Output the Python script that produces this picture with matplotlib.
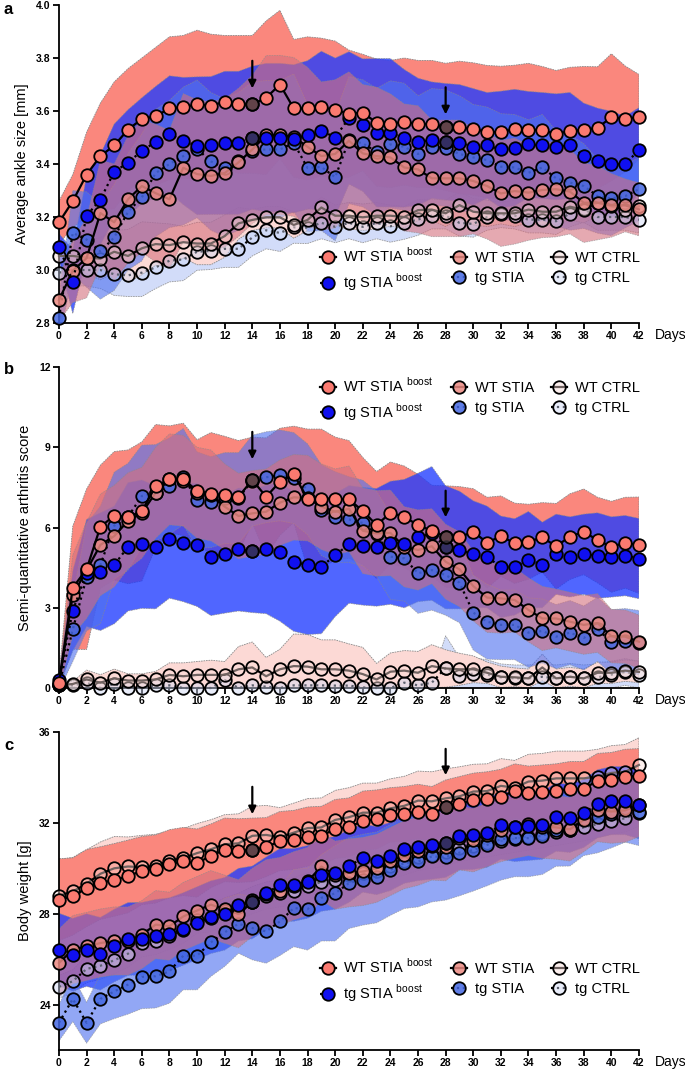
import numpy as np
import matplotlib.pyplot as plt
from matplotlib.lines import Line2D
from matplotlib.colors import to_rgba

plt.rcParams['font.family'] = ['Liberation Sans', 'DejaVu Sans']

days = np.arange(43)
boost_days = [14, 28]
labels = ['WT STIA $^{\\mathregular{boost}}$', 'tg STIA $^{\\mathregular{boost}}$',
          'WT STIA', 'tg STIA', 'WT CTRL', 'tg CTRL']

# ---- a: ankle size [mm]
a_wtb = [3.18,3.26,3.36,3.43,3.47,3.53,3.57,3.58,3.61,3.615,3.625,3.62,3.635,3.625,3.625,3.65,3.70,3.61,3.61,3.615,3.604,3.59,3.594,3.556,3.551,3.56,3.551,3.551,3.54,3.538,3.532,3.522,3.519,3.533,3.53,3.528,3.513,3.525,3.528,3.537,3.576,3.57,3.578]
a_tgb = [3.088,2.956,3.205,3.266,3.371,3.405,3.45,3.483,3.513,3.487,3.469,3.47,3.48,3.48,3.499,3.5,3.5,3.495,3.51,3.526,3.5,3.574,3.547,3.518,3.518,3.497,3.484,3.49,3.484,3.48,3.465,3.47,3.455,3.462,3.474,3.47,3.465,3.47,3.43,3.411,3.399,3.40,3.453]
a_wts = [2.887,2.997,3.045,3.215,3.18,3.267,3.317,3.29,3.267,3.386,3.362,3.355,3.366,3.406,3.455,3.509,3.51,3.502,3.465,3.43,3.438,3.488,3.44,3.43,3.425,3.387,3.38,3.346,3.346,3.346,3.336,3.317,3.289,3.298,3.292,3.302,3.305,3.296,3.254,3.254,3.244,3.244,3.229]
a_tgs = [2.82,3.14,3.115,3.07,3.123,3.22,3.274,3.366,3.40,3.43,3.457,3.41,3.386,3.41,3.45,3.455,3.455,3.48,3.385,3.389,3.35,3.49,3.478,3.446,3.474,3.465,3.438,3.465,3.46,3.438,3.425,3.415,3.39,3.387,3.367,3.387,3.346,3.33,3.317,3.279,3.27,3.279,3.305]
a_wtc = [3.053,3.053,3.047,3.043,3.069,3.053,3.082,3.098,3.094,3.105,3.10,3.10,3.128,3.176,3.189,3.199,3.199,3.17,3.189,3.236,3.205,3.205,3.199,3.205,3.205,3.2,3.226,3.228,3.214,3.245,3.22,3.214,3.214,3.214,3.228,3.22,3.22,3.239,3.228,3.254,3.24,3.228,3.24]
a_tgc = [2.99,3.0,3.0,3.0,2.984,2.98,2.99,3.01,3.035,3.04,3.069,3.072,3.08,3.08,3.123,3.15,3.14,3.161,3.16,3.178,3.163,3.178,3.163,3.178,3.165,3.176,3.191,3.205,3.205,3.178,3.174,3.2,3.21,3.205,3.19,3.19,3.184,3.213,3.23,3.2,3.2,3.2,3.19]
a_wtb_sd = [0.08,0.1,0.16,0.2,0.24,0.23,0.23,0.26,0.27,0.27,0.28,0.27,0.25,0.26,0.26,0.29,0.28,0.26,0.27,0.26,0.26,0.24,0.22,0.24,0.24,0.24,0.24,0.24,0.24,0.25,0.25,0.25,0.25,0.24,0.25,0.24,0.24,0.24,0.24,0.23,0.24,0.2,0.16]
a_tgb_sd = [0.05,0.12,0.15,0.17,0.18,0.2,0.2,0.21,0.22,0.24,0.26,0.26,0.27,0.27,0.27,0.28,0.28,0.28,0.28,0.3,0.3,0.25,0.25,0.28,0.28,0.26,0.24,0.22,0.22,0.22,0.22,0.2,0.22,0.22,0.2,0.2,0.2,0.2,0.2,0.2,0.2,0.18,0.16]
a_wts_sd = [0.08,0.12,0.15,0.2,0.22,0.24,0.25,0.26,0.26,0.28,0.28,0.28,0.28,0.28,0.28,0.3,0.3,0.3,0.3,0.28,0.28,0.26,0.26,0.26,0.24,0.24,0.24,0.22,0.22,0.22,0.2,0.2,0.2,0.2,0.18,0.18,0.18,0.16,0.15,0.14,0.12,0.1,0.1]
a_tgs_sd = [0.08,0.16,0.18,0.18,0.2,0.22,0.24,0.24,0.24,0.26,0.26,0.26,0.26,0.26,0.26,0.26,0.26,0.26,0.24,0.24,0.24,0.24,0.24,0.24,0.24,0.24,0.22,0.22,0.22,0.22,0.2,0.2,0.2,0.2,0.2,0.2,0.18,0.18,0.16,0.14,0.14,0.12,0.12]
a_wtc_sd = [0.03,0.05,0.06,0.08,0.08,0.1,0.1,0.08,0.08,0.06,0.08,0.08,0.08,0.06,0.04,0.04,0.04,0.05,0.04,0.04,0.04,0.05,0.05,0.05,0.04,0.04,0.04,0.04,0.05,0.05,0.05,0.05,0.04,0.05,0.05,0.05,0.05,0.05,0.05,0.05,0.05,0.05,0.05]
a_tgc_sd = [0.05,0.06,0.06,0.07,0.08,0.08,0.09,0.08,0.08,0.08,0.07,0.07,0.07,0.07,0.07,0.07,0.07,0.06,0.06,0.06,0.06,0.06,0.06,0.06,0.06,0.06,0.06,0.05,0.05,0.05,0.05,0.05,0.05,0.05,0.05,0.05,0.05,0.05,0.05,0.05,0.05,0.05,0.05]

# ---- b: arthritis score
b_wtb = [0.2,3.75,4.44,6.03,6.44,6.4,6.6,7.55,7.8,7.8,7.38,7.25,7.21,7.15,7.78,7.15,7.71,7.99,7.08,7.08,7.08,7.05,6.62,6.09,6.55,6.4,6.09,5.88,5.66,5.63,5.85,5.43,5.68,5.41,5.47,5.63,5.3,5.66,5.84,5.53,5.28,5.43,5.34]
b_tgb = [0.3,2.89,4.3,4.35,4.6,5.28,5.38,5.26,5.56,5.43,5.35,4.91,5.0,5.18,5.12,5.18,5.1,4.72,4.6,4.53,4.97,5.37,5.3,5.26,5.43,5.4,5.63,5.78,5.26,5.16,5.0,4.9,4.53,4.53,4.8,4.6,5.0,4.9,5.0,4.95,4.9,4.95,4.84]
b_wts = [0.15,3.48,4.4,5.35,5.68,6.25,6.55,7.3,7.8,7.75,7.3,7.2,6.78,6.43,6.53,6.59,6.93,7.13,7.1,6.78,6.59,6.7,5.88,5.78,5.8,5.28,5.16,5.3,4.72,4.44,3.81,3.38,3.35,3.29,2.92,2.6,2.6,2.48,2.36,2.43,1.94,1.92,1.73]
b_tgs = [0.1,2.19,4.14,4.6,6.07,6.4,7.18,7.3,7.55,7.9,7.03,6.95,7.1,7.1,7.75,7.88,7.95,7.85,7.43,6.65,6.39,6.3,6.17,5.76,4.91,4.85,4.29,4.41,4.22,3.94,2.82,2.48,2.36,2.36,2.07,2.13,1.92,2.07,1.87,2.19,1.73,1.77,1.7]
b_wtc = [0.1,0.15,0.32,0.2,0.36,0.28,0.28,0.32,0.49,0.44,0.49,0.49,0.49,0.7,0.77,0.44,0.7,0.82,0.8,0.7,0.7,0.65,0.52,0.32,0.61,0.65,0.57,0.82,0.73,0.7,0.7,0.57,0.42,0.4,0.36,0.77,0.36,0.42,0.36,0.57,0.57,0.65,0.6]
b_tgc = [0.1,0.1,0.2,0.0,0.15,0.0,0.0,0.1,0.1,0.0,0.0,0.0,0.3,0.0,0.1,0.05,0.0,0.1,0.1,0.1,0.09,0.09,0.02,0.0,0.0,0.2,0.1,0.2,0.75,0.44,0.54,0.5,0.4,0.36,0.36,0.42,0.36,0.42,0.36,0.4,0.5,0.6,0.5]
b_wtb_sd = [0.2,2.3,3.0,2.3,2.4,2.5,2.6,2.3,2.0,2.1,1.9,2.3,2.2,2.1,1.6,2.2,2.0,1.8,2.6,2.6,2.3,2.2,2.0,2.0,1.9,1.9,1.9,1.7,1.9,1.9,1.6,1.7,1.5,1.5,1.4,1.3,1.6,1.6,1.6,1.6,1.7,1.7,1.8]
b_tgb_sd = [0.2,1.5,2.0,2.2,2.2,2.4,2.4,2.3,2.2,2.2,2.3,2.2,2.2,2.3,2.3,2.4,2.6,2.6,2.6,2.5,2.3,2.2,2.2,2.2,2.3,2.4,2.4,2.5,2.3,2.2,2.0,1.9,1.9,1.8,1.8,1.6,1.5,1.5,1.5,1.6,1.5,1.5,1.5]
b_wts_sd = [0.2,1.5,1.8,1.9,1.9,1.8,1.7,1.7,1.7,1.7,1.7,1.7,1.6,1.6,1.6,1.6,1.6,1.6,1.6,1.6,1.6,1.6,1.6,1.6,1.6,1.5,1.5,1.4,1.4,1.4,1.3,1.3,1.3,1.2,1.2,1.2,1.1,1.1,1.1,1.1,1.0,1.0,1.0]
b_tgs_sd = [0.2,1.2,2.0,2.2,2.0,2.0,1.9,1.8,1.8,1.8,1.8,1.7,1.7,1.7,1.7,1.7,1.7,1.7,1.7,1.7,1.7,1.6,1.6,1.6,1.6,1.6,1.5,1.5,1.5,1.5,1.4,1.4,1.3,1.3,1.3,1.2,1.2,1.2,1.2,1.2,1.2,1.2,1.2]
b_wtc_sd = [0.05,0.1,0.35,0.3,0.35,0.25,0.25,0.3,0.45,0.5,0.5,0.55,0.5,0.85,0.95,0.7,0.75,1.2,1.2,1.1,1.1,1.0,1.0,0.6,0.7,0.75,0.8,0.8,0.7,0.6,0.5,0.4,0.4,0.35,0.35,0.5,0.35,0.35,0.35,0.4,0.4,0.4,0.4]
b_tgc_sd = [0.05,0.1,0.15,0.05,0.15,0.05,0.05,0.1,0.1,0.05,0.05,0.05,0.25,0.05,0.1,0.05,0.05,0.1,0.1,0.1,0.1,0.1,0.05,0.05,0.05,0.2,0.1,0.2,1.2,0.7,0.6,0.55,0.5,0.5,0.5,0.5,0.5,0.5,0.5,0.5,0.5,0.5,0.5]

# ---- c: body weight [g]
c_wtb = [28.62,28.76,29.13,29.35,29.49,29.64,29.9,29.97,30.2,30.3,30.23,30.55,30.81,30.78,30.81,30.93,31.2,31.25,31.4,31.43,31.73,31.8,32.1,32.15,32.35,32.4,32.5,32.4,32.69,32.84,32.99,33.05,33.16,33.4,33.3,33.35,33.4,33.5,33.5,33.86,33.9,34.04,34.07]
c_tgb = [26.42,26.2,26.4,26.24,26.6,26.89,26.9,27.03,27.1,27.33,27.59,27.85,28.0,28.4,28.5,28.9,29.27,29.27,29.4,29.71,29.8,30.1,30.45,30.34,30.52,30.84,30.96,31.02,31.1,31.43,31.45,31.55,31.9,31.8,31.85,31.9,32.25,32.2,32.42,32.84,32.98,32.98,32.8]
c_wts = [25.83,26.42,26.56,26.71,26.8,26.8,27.08,27.52,27.45,27.88,28.14,28.4,28.2,28.0,28.5,28.88,28.98,29.23,29.42,30.08,29.7,29.8,29.86,30.0,30.3,30.6,30.75,30.98,30.95,31.33,31.24,31.47,31.69,31.84,31.96,31.84,31.8,31.72,32.13,32.57,32.5,32.55,32.79]
c_tgs = [23.2,24.25,23.2,24.25,24.58,24.88,25.22,25.25,25.46,26.15,26.15,26.74,27.18,27.56,27.37,27.22,27.66,28.25,28.2,28.7,28.9,29.35,29.5,29.6,29.93,30.23,30.3,30.52,30.5,30.69,30.8,31.03,31.28,31.33,31.33,31.43,31.69,31.7,32.16,32.28,32.4,32.65,32.5]
c_wtc = [28.79,28.98,29.32,29.76,30.0,30.08,30.05,30.1,30.34,30.45,30.67,30.84,31.06,31.1,31.43,31.47,31.37,31.57,31.77,31.8,32.13,32.25,32.45,32.45,32.64,32.75,32.98,32.95,33.08,33.17,33.38,33.4,33.63,33.55,33.82,33.86,33.96,33.96,33.96,34.04,34.2,34.25,34.55]
c_tgc = [24.78,25.03,25.57,25.71,25.95,26.24,26.7,26.8,27.03,27.3,27.74,27.8,28.1,28.3,28.6,28.8,28.9,29.0,29.2,29.4,29.5,29.7,29.8,29.9,30.1,30.3,30.5,30.6,30.7,30.9,31.0,31.1,31.2,31.3,31.4,31.5,31.6,31.7,31.8,31.95,32.1,32.2,32.45]
c_wtb_sd = [1.8,1.7,1.7,1.6,1.6,1.6,1.5,1.5,1.5,1.5,1.5,1.4,1.4,1.4,1.4,1.3,1.3,1.3,1.3,1.3,1.3,1.3,1.3,1.3,1.2,1.2,1.2,1.2,1.2,1.2,1.2,1.2,1.2,1.2,1.2,1.2,1.2,1.2,1.2,1.2,1.2,1.2,1.2]
c_tgb_sd = [1.6,1.6,1.6,1.6,1.6,1.6,1.6,1.6,1.6,1.6,1.6,1.6,1.6,1.6,1.6,1.6,1.6,1.6,1.6,1.6,1.6,1.6,1.5,1.5,1.5,1.5,1.5,1.5,1.5,1.5,1.5,1.5,1.5,1.5,1.5,1.5,1.5,1.5,1.5,1.5,1.5,1.5,1.5]
c_wts_sd = [1.5,1.5,1.5,1.5,1.5,1.5,1.5,1.5,1.5,1.5,1.5,1.5,1.5,1.5,1.5,1.5,1.5,1.5,1.5,1.5,1.5,1.5,1.5,1.5,1.5,1.5,1.5,1.5,1.5,1.4,1.4,1.4,1.4,1.4,1.4,1.4,1.4,1.4,1.4,1.4,1.4,1.4,1.4]
c_tgs_sd = [0.8,1.0,0.9,1.1,1.2,1.3,1.4,1.4,1.4,1.5,1.5,1.5,1.5,1.3,1.4,1.4,1.5,1.7,1.8,1.9,2.1,2.0,2.0,2.0,2.0,2.0,2.0,2.0,1.9,1.9,1.8,1.8,1.8,1.7,1.7,1.7,1.6,1.6,1.6,1.6,1.5,1.5,1.5]
c_wtc_sd = [1.6,1.5,1.5,1.4,1.4,1.3,1.4,1.4,1.3,1.3,1.3,1.3,1.3,1.3,1.3,1.3,1.3,1.3,1.3,1.3,1.3,1.3,1.3,1.3,1.3,1.3,1.3,1.3,1.3,1.3,1.2,1.2,1.2,1.2,1.2,1.2,1.2,1.2,1.2,1.2,1.2,1.2,1.2]
c_tgc_sd = [0.5,0.5,0.6,0.6,0.6,0.6,0.6,0.6,0.6,0.6,0.6,0.6,0.6,0.6,0.6,0.6,0.6,0.6,0.6,0.6,0.6,0.6,0.6,0.6,0.6,0.6,0.6,0.6,0.6,0.6,0.6,0.6,0.6,0.6,0.6,0.6,0.6,0.6,0.6,0.6,0.6,0.6,0.6]

# styles (order: WT boost, tg boost, WT STIA, tg STIA, WT CTRL, tg CTRL)
band_col = ['#FA877D', '#1F3BFF', '#D4707E', '#4F72F0', '#FCD9D5', '#CBD6F8']
band_alpha = [1.0, 0.78, 0.6, 0.62, 1.0, 0.85]
mk_col = ['#FA7A70', '#1010F0', '#EB8A82', '#4468E2', '#FADCD8', '#CFD9F6']
mk_alpha = [1.0, 1.0, 0.85, 0.85, 0.45, 0.45]
lstyle = ['-', ':', '-', ':', '-', ':']
band_order = [5, 4, 0, 1, 3, 2]


def panel(ax, means, sds, ylim, yticks, ylabel, leg_anchor, arrows):
    for k, i in enumerate(band_order):
        m = np.array(means[i]); s = np.array(sds[i])
        ax.fill_between(days, m - s, m + s, color=band_col[i], alpha=band_alpha[i],
                        lw=0.6, edgecolor='#8a8a8a', linestyle=(0, (2, 1)), zorder=1 + k * 0.1)
    for i in [5, 4, 3, 2, 1, 0]:
        fc = to_rgba(mk_col[i], mk_alpha[i])
        ax.plot(days, means[i], ls=lstyle[i], color='k', lw=1.6, marker='o', ms=9,
                mfc=fc, mec='k', mew=1.3, zorder=5 + (5 - i), clip_on=False)
    # darker markers on boost days for the boosted groups
    for i in [1, 0]:
        ax.plot(boost_days, [means[i][d] for d in boost_days], ls='none', marker='o', ms=9,
                mfc=to_rgba('#3c3640', 0.8), mec='k', mew=1.3, zorder=12)
    for x, y0, y1 in arrows:
        ax.annotate('', xy=(x, y1), xytext=(x, y0),
                    arrowprops=dict(arrowstyle='-|>', color='k', lw=1.6, mutation_scale=11),
                    zorder=20)
    ax.set_xlim(0, 42)
    ax.set_ylim(*ylim)
    ax.set_xticks(range(0, 43, 2))
    ax.set_yticks(yticks)
    for sp in ['top', 'right']:
        ax.spines[sp].set_visible(False)
    for sp in ['left', 'bottom']:
        ax.spines[sp].set_linewidth(1.3)
    ax.tick_params(width=1.3, length=4, labelsize=7.5, pad=2)
    for t in ax.get_xticklabels() + ax.get_yticklabels():
        t.set_fontweight('bold')
    ax.set_ylabel(ylabel, fontsize=10.5, labelpad=5)
    ax.text(1.027, -0.015, 'Days', transform=ax.transAxes, fontsize=10, va='top', ha='left')
    handles = []
    for i in range(6):
        fc = to_rgba(mk_col[i], mk_alpha[i])
        handles.append(Line2D([], [], ls=lstyle[i], color='k', lw=1.6, marker='o', ms=9,
                              mfc=fc, mec='k', mew=1.3))
    ax.legend(handles, labels, ncol=3, loc='upper left', bbox_to_anchor=leg_anchor,
              frameon=False, fontsize=10.5, handlelength=1.1, handletextpad=0.5,
              columnspacing=1.2, labelspacing=0.45, borderaxespad=0)


fig = plt.figure(figsize=(6.85, 10.71), dpi=100)
axa = fig.add_axes([0.0861, 0.6984, 0.8467, 0.2969])
axb = fig.add_axes([0.0861, 0.3576, 0.8467, 0.2997])
axc = fig.add_axes([0.0861, 0.0196, 0.8467, 0.2969])

panel(axa, [a_wtb, a_tgb, a_wts, a_tgs, a_wtc, a_tgc],
      [a_wtb_sd, a_tgb_sd, a_wts_sd, a_tgs_sd, a_wtc_sd, a_tgc_sd],
      (2.8, 4.0), np.arange(2.8, 4.01, 0.2), 'Average ankle size [mm]', (0.44, 0.26),
      [(14, 3.80, 3.675), (28, 3.70, 3.577)])
panel(axb, [b_wtb, b_tgb, b_wts, b_tgs, b_wtc, b_tgc],
      [b_wtb_sd, b_tgb_sd, b_wts_sd, b_tgs_sd, b_wtc_sd, b_tgc_sd],
      (0, 12), [0, 3, 6, 9, 12], 'Semi-quantitative arthritis score', (0.44, 0.99),
      [(14, 9.68, 8.45), (28, 7.48, 6.28)])
panel(axc, [c_wtb, c_tgb, c_wts, c_tgs, c_wtc, c_tgc],
      [c_wtb_sd, c_tgb_sd, c_wts_sd, c_tgs_sd, c_wtc_sd, c_tgc_sd],
      (22, 36), [24, 28, 32, 36], 'Body weight [g]', (0.44, 0.31),
      [(14, 33.71, 32.26), (28, 35.38, 33.98)])

for letter, ypix in [('a', 10), ('b', 370), ('c', 745)]:
    fig.text(4 / 685, 1 - ypix / 1071, letter, fontsize=12, fontweight='bold',
             va='center', ha='left')

fig.savefig('out.png', dpi=100)
